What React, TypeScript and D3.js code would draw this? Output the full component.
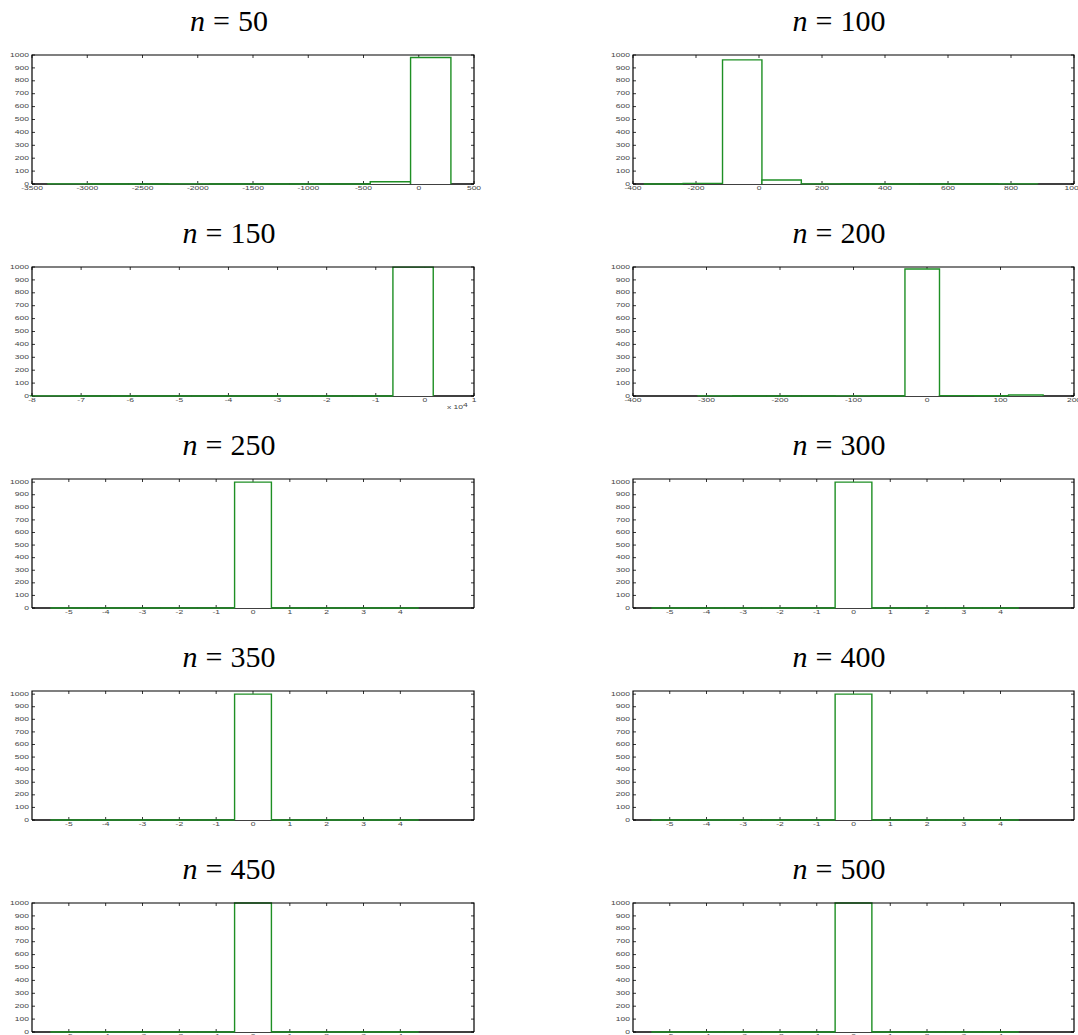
import React from 'react';
import * as d3 from 'd3';

// ---------- data ----------
const sampleSizes = ['50', '100', '150', '200', '250', '300', '350', '400', '450', '500'];

// histogram bin start / width (10 bins each)
const binStarts = [-3359, -366, -80400, -312, -5.5, -5.5, -5.5, -5.5, -5.5, -5.5];
const binWidths = [365, 125.1, 8210, 47, 1, 1, 1, 1, 1, 1];

const counts50 = [1, 0, 0, 1, 0, 0, 0, 0, 17, 981];
const counts100 = [0, 5, 962, 31, 1, 0, 0, 0, 0, 1];
const counts150 = [1, 0, 0, 0, 0, 0, 0, 0, 0, 999];
const counts200 = [1, 0, 0, 0, 1, 0, 985, 3, 2, 8];
const counts250 = [0, 0, 0, 0, 0, 1000, 0, 0, 0, 0];
const counts300 = [0, 0, 0, 0, 0, 1000, 0, 0, 0, 0];
const counts350 = [0, 0, 0, 0, 0, 1000, 0, 0, 0, 0];
const counts400 = [0, 0, 0, 0, 0, 1000, 0, 0, 0, 0];
const counts450 = [0, 0, 0, 0, 0, 1000, 0, 0, 0, 0];
const counts500 = [0, 0, 0, 0, 0, 1000, 0, 0, 0, 0];
const allCounts = [counts50, counts100, counts150, counts200, counts250, counts300, counts350, counts400, counts450, counts500];

const xDomains: [number, number][] = [
  [-3500, 500], [-400, 1000], [-80000, 10000], [-400, 200],
  [-6, 6], [-6, 6], [-6, 6], [-6, 6], [-6, 6], [-6, 6],
];
const ticks50 = d3.range(-3500, 501, 500);
const ticks100 = d3.range(-400, 1001, 200);
const ticks150 = d3.range(-80000, 10001, 10000);
const ticks200 = d3.range(-400, 201, 100);
const ticksUnit = d3.range(-5, 5, 1);
const allXTicks = [ticks50, ticks100, ticks150, ticks200, ticksUnit, ticksUnit, ticksUnit, ticksUnit, ticksUnit, ticksUnit];
const xTickDivisor = [1, 1, 10000, 1, 1, 1, 1, 1, 1, 1];
const yMaxes = [1000, 1000, 1000, 1000, 1025, 1025, 1025, 1025, 1000, 1000];
const yTicks = d3.range(0, 1001, 100);

// ---------- layout ----------
const W = 1078, H = 1035;
const colX: [number, number][] = [[32, 474], [633, 1074]];
const rowTop0 = 55, rowStep = 212, panelH = 129;
const titleX = [229, 839];
const GREEN = '#1e8f24';
const LABEL = '#444';

function TinyText({ x, y, anchor, children }: any) {
  return (
    <text
      transform={`translate(${x},${y}) scale(1.85,1)`}
      fontSize={4.6}
      fontFamily="Liberation Sans, Arial, sans-serif"
      textAnchor={anchor}
      fill={LABEL}
    >
      {children}
    </text>
  );
}

function Panel({ i }: { i: number }) {
  const col = i % 2;
  const row = Math.floor(i / 2);
  const [x0, x1] = colX[col];
  const y0 = rowTop0 + row * rowStep;
  const y1 = y0 + panelH;
  const x = d3.scaleLinear().domain(xDomains[i]).range([x0, x1]);
  const y = d3.scaleLinear().domain([0, yMaxes[i]]).range([y1, y0]);
  const counts = allCounts[i];
  const bars = counts.map((c, k) => {
    const a = binStarts[i] + k * binWidths[i];
    const b = a + binWidths[i];
    return `M${x(a)},${y(0)}L${x(a)},${y(c)}L${x(b)},${y(c)}L${x(b)},${y(0)}`;
  });
  const xt = allXTicks[i];
  return (
    <g>
      {/* title */}
      <text x={titleX[col]} y={31 + row * rowStep} textAnchor="middle" fontSize={30}
        fontFamily="Liberation Serif, Times New Roman, serif" fill="#000">
        <tspan fontStyle="italic">n</tspan>
        <tspan dx={8}>=</tspan>
        <tspan dx={8}>{sampleSizes[i]}</tspan>
      </text>
      {/* bottom axis line */}
      <line x1={x0} x2={x1} y1={y1} y2={y1} stroke="#000" strokeWidth={1.3} />
      {/* ticks */}
      {yTicks.map((t) => (
        <g key={'y' + t}>
          <line x1={x0} x2={x0 + 3} y1={y(t)} y2={y(t)} stroke="#000" strokeWidth={0.8} />
          <line x1={x1 - 3} x2={x1} y1={y(t)} y2={y(t)} stroke="#000" strokeWidth={0.8} />
          <TinyText x={x0 - 3} y={y(t) + 1.6} anchor="end">{String(t)}</TinyText>
        </g>
      ))}
      {xt.map((t) => (
        <g key={'x' + t}>
          <line x1={x(t)} x2={x(t)} y1={y0} y2={y0 + 3} stroke="#000" strokeWidth={0.8} />
          <line x1={x(t)} x2={x(t)} y1={y1 - 3} y2={y1} stroke="#000" strokeWidth={0.8} />
          <TinyText x={x(t)} y={y1 + 5.5} anchor="middle">{String(t / xTickDivisor[i])}</TinyText>
        </g>
      ))}
      {xTickDivisor[i] !== 1 && (
        <g>
          <TinyText x={x1 - 27} y={y1 + 13} anchor="start">x 10</TinyText>
          <TinyText x={x1 - 11} y={y1 + 10.5} anchor="start">4</TinyText>
        </g>
      )}
      {/* bars */}
      {bars.map((d, k) => (
        <path key={k} d={d} fill="#fff" stroke={GREEN} strokeWidth={1.4} />
      ))}
      {/* frame: left, top, right */}
      <path d={`M${x0},${y1}L${x0},${y0}L${x1},${y0}L${x1},${y1}`} fill="none" stroke="#000" strokeWidth={1.2} />
    </g>
  );
}

export default function App() {
  return (
    <svg width={W} height={H} style={{ position: 'absolute', left: 0, top: 0, background: '#fff' }}>
      <rect width={W} height={H} fill="#fff" />
      {sampleSizes.map((_, i) => (
        <Panel key={i} i={i} />
      ))}
    </svg>
  );
}
